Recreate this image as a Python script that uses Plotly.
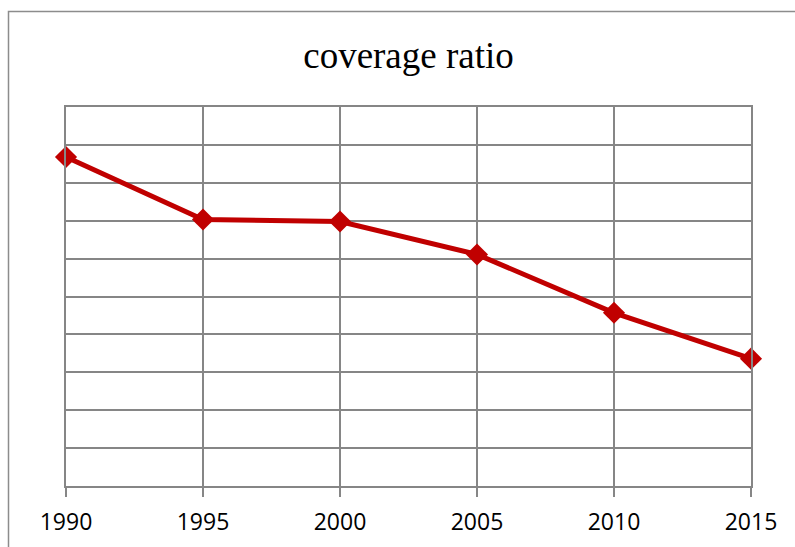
import plotly.graph_objects as go

years = [1990, 1995, 2000, 2005, 2010, 2015]
coverage = [8.68, 7.03, 6.98, 6.11, 4.57, 3.36]
tick_labels = ["1990", "1995", "2000", "2005", "2010", "2015"]

fig = go.Figure()
fig.add_trace(go.Scatter(
    x=years, y=coverage, mode="lines+markers",
    line=dict(color="#C00000", width=5),
    marker=dict(symbol="diamond", size=17, color="#C00000"),
    showlegend=False, cliponaxis=False,
))

W, H = 795, 547
ml, mr, mt, mb = 66, 44, 107, 61
pw, ph = W - ml - mr, H - mt - mb

grid = "#868686"
fig.update_layout(
    width=W, height=H,
    margin=dict(l=ml, r=mr, t=mt, b=mb, autoexpand=False),
    paper_bgcolor="white", plot_bgcolor="white",
    title=dict(text="coverage ratio", x=(ml + pw / 2) / W, xanchor="center",
               y=1 - 55 / H, yanchor="middle",
               font=dict(family="Liberation Serif, Times New Roman, serif", size=37, color="black")),
    xaxis=dict(range=[1990, 2015], tickvals=years, ticktext=tick_labels,
               showgrid=True, gridcolor=grid, gridwidth=2, automargin=False,
               ticks="outside", ticklen=9, tickwidth=2, tickcolor=grid,
               ticklabelstandoff=5,
               showline=True, linecolor=grid, linewidth=2, mirror=True, zeroline=False,
               tickfont=dict(family="Open Sans, Liberation Sans, sans-serif", size=23, color="black")),
    yaxis=dict(range=[0, 10], dtick=1, showticklabels=False, automargin=False,
               showgrid=True, gridcolor=grid, gridwidth=2,
               showline=True, linecolor=grid, linewidth=2, mirror=True,
               zeroline=False, ticks=""),
    shapes=[dict(type="rect", xref="paper", yref="paper",
                 x0=(8.5 - ml) / pw, x1=(W + 20 - ml) / pw,
                 y0=-(mb + 20) / ph, y1=1 + (mt - 11.5) / ph,
                 line=dict(color="#8c8c8c", width=1.5), layer="below")],
)

fig.write_html("out.html")
